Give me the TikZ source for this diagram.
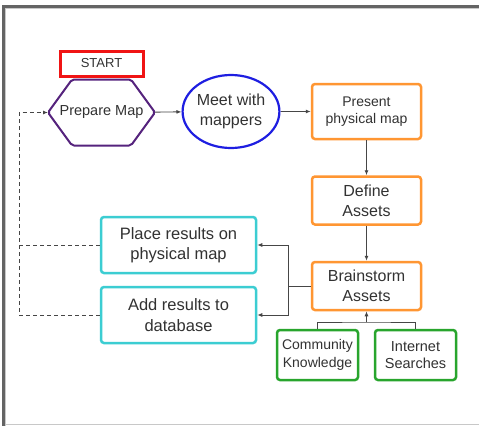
\documentclass[tikz,border=0pt]{standalone}
\usepackage{fontspec}
\setmainfont{Liberation Sans}
\usetikzlibrary{shapes.geometric,arrows.meta}
\definecolor{txtgray}{RGB}{50,50,50}
\definecolor{linegray}{RGB}{70,70,70}
\definecolor{framedark}{RGB}{100,100,100}
\definecolor{framelight}{RGB}{200,200,200}
\definecolor{startred}{RGB}{240,20,20}
\definecolor{prepviolet}{RGB}{85,35,125}
\definecolor{meetblue}{RGB}{30,30,225}
\definecolor{steporange}{RGB}{255,150,50}
\definecolor{rescyan}{RGB}{60,205,210}
\definecolor{srcgreen}{RGB}{40,165,45}
\begin{document}
\begin{tikzpicture}[x=1pt,y=-1pt,
  box/.style={draw, rounded corners=3pt, line width=2.5pt, inner sep=0pt, align=center, text=txtgray},
  arr/.style={draw=linegray, line width=0.9pt, -{Latex[length=5pt,width=4pt]}},
  fb/.style={draw=linegray, line width=1pt, dash pattern=on 4pt off 3pt}]
\useasboundingbox (0,0) rectangle (479,426);
\fill[white] (0,0) rectangle (479,426);
% frame
\draw[framedark, line width=3pt] (2,6.5) -- (479,6.5);
\draw[framedark, line width=3pt] (3.5,5) -- (3.5,426);
\draw[framelight, line width=1pt] (5,8.5) -- (479,8.5);
\draw[framelight, line width=1pt] (5.5,8) -- (5.5,426);
\draw[framelight, line width=1pt] (5,424.5) -- (479,424.5);
% nodes
\node[draw=startred, line width=3pt, minimum width=83pt, minimum height=25pt, inner sep=0pt, text=txtgray, font=\fontsize{13}{15}\selectfont] (start) at (101.5,63.5){START};
\node[minimum width=107pt, minimum height=66pt, inner sep=0pt, outer sep=0pt, text=txtgray, font=\fontsize{14.5}{17}\selectfont] (prep) at (101.5,112.5){Prepare Map};
\draw[prepviolet, line width=2pt, rounded corners=2pt] (prep.west) -- ([xshift=24pt]prep.north west) -- ([xshift=-24pt]prep.north east) -- (prep.east) -- ([xshift=-24pt]prep.south east) -- ([xshift=24pt]prep.south west) -- cycle;
\node[draw=meetblue, line width=2.2pt, ellipse, minimum width=92pt, minimum height=73pt, inner sep=0pt, align=center, text=txtgray, font=\fontsize{16}{20}\selectfont] (meet) at (231,111.5){Meet with\\mappers};
\node[box, draw=steporange, minimum width=109pt, minimum height=55pt, font=\fontsize{14}{17}\selectfont] (present) at (366.5,111.5){Present\\physical map};
\node[box, draw=steporange, minimum width=109pt, minimum height=48pt, font=\fontsize{16}{20}\selectfont] (define) at (366.5,200.5){Define\\Assets};
\node[box, draw=steporange, minimum width=109pt, minimum height=48pt, font=\fontsize{16}{20}\selectfont] (brain) at (366.5,286){Brainstorm\\Assets};
\node[box, draw=rescyan, minimum width=155pt, minimum height=56pt, font=\fontsize{16.5}{20.5}\selectfont] (place) at (178.5,245){Place results on\\physical map};
\node[box, draw=rescyan, minimum width=155pt, minimum height=56pt, font=\fontsize{16.5}{20.5}\selectfont] (add) at (178.5,315){Add results to\\database};
\node[box, draw=srcgreen, minimum width=81pt, minimum height=50pt, font=\fontsize{14}{17.5}\selectfont] (comm) at (317.5,355){Community\\Knowledge};
\node[box, draw=srcgreen, minimum width=81pt, minimum height=50pt, font=\fontsize{14.5}{17.5}\selectfont] (inet) at (415.5,355){Internet\\Searches};
\coordinate (split) at (288,286);
\coordinate (join) at (366.5,322);
\coordinate (back) at (19,315);
% connectors
\draw[arr] (prep) -- (meet);
\draw[arr] (meet) -- (present);
\draw[arr] (present) -- (define);
\draw[arr] (define) -- (brain);
\draw[arr] (brain.west) -- (split) |- (place.east);
\draw[arr] (split) |- (add.east);
\draw[draw=linegray, line width=0.9pt] (comm.north) |- (join) -| (inet.north);
\draw[arr] (join) -- (brain.south);
\draw[fb, -{Latex[length=5pt,width=4pt]}] (add.west) -- (back) |- (prep.west);
\draw[fb] (place.west) -- (place.west -| back);
\end{tikzpicture}
\end{document}
